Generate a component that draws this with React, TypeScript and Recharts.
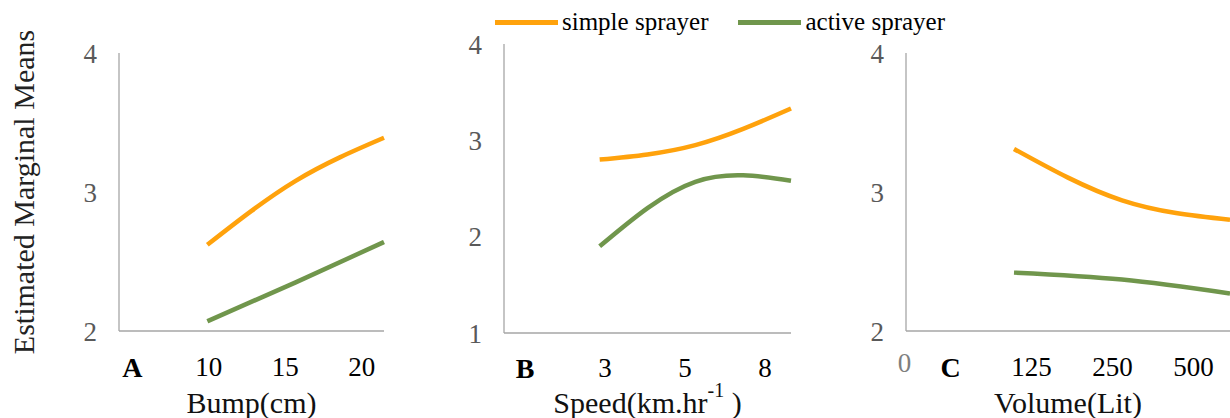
import { LineChart, Line, XAxis, YAxis, Legend } from "recharts";

// panel A: bump height
const bumpCats = ["A", "10", "15", "20"];
const bumpSimple = [null, 2.62, 3.08, 3.39];
const bumpActive = [null, 2.07, 2.35, 2.64];

// panel B: forward speed
const speedCats = ["B", "3", "5", "8"];
const speedSimple = [null, 2.8, 2.95, 3.33];
const speedActive = [null, 1.9, 2.57, 2.58];

// panel C: tank volume
const volumeCats = ["C", "125", "250", "500"];
const volumeSimple = [null, 3.31, 2.94, 2.8];
const volumeActive = [null, 2.42, 2.37, 2.27];
const volumeOrigin = "0";

const seriesNames = ["simple sprayer", "active sprayer"];

const ticksFrom2 = [2, 3, 4];
const ticksFrom1 = [1, 2, 3, 4];

const ORANGE = "#FFA20C";
const GREEN = "#70964C";
const AXIS = "#a6a6a6";
const FONT = "'Liberation Serif', 'Times New Roman', serif";

const toRows = (cats: string[], simple: (number | null)[], active: (number | null)[]) =>
  cats.map((c, i) => ({ cat: c, simple: simple[i], active: active[i] }));

const bumpData = toRows(bumpCats, bumpSimple, bumpActive);
const speedData = toRows(speedCats, speedSimple, speedActive);
const volumeData = toRows(volumeCats, volumeSimple, volumeActive);

function CategoryTick(props: any) {
  const { x, y, payload, index, origin } = props;
  const first = index === 0;
  return (
    <g>
      {first && origin ? (
        <text x={x - 46} y={y - 4} dy="0.71em" textAnchor="middle" fill="#7f7f7f" fontSize={27} fontFamily={FONT}>
          {origin}
        </text>
      ) : null}
      <text
        x={x}
        y={y}
        dy="0.71em"
        textAnchor="middle"
        fill="#000"
        fontFamily={FONT}
        fontSize={first ? 28 : 27}
        fontWeight={first ? 700 : 400}
      >
        {payload.value}
      </text>
    </g>
  );
}

function AxisTitle(props: any) {
  const { viewBox, text, sup, tail } = props;
  if (!viewBox) return null;
  const cx = viewBox.x + viewBox.width / 2;
  const base = viewBox.y + viewBox.height - 5;
  return (
    <text x={cx} y={base} textAnchor="middle" fontSize={30} fill="#111" fontFamily={FONT}>
      {text}
      {sup ? (
        <tspan dy={-16} fontSize={20}>
          {sup}
        </tspan>
      ) : null}
      {sup ? <tspan dy={16}>{tail}</tspan> : null}
    </text>
  );
}

function YTitle(props: any) {
  const { viewBox, text } = props;
  if (!viewBox) return null;
  const x = viewBox.x + 23;
  const y = viewBox.y + viewBox.height / 2;
  return (
    <text
      x={x}
      y={y}
      transform={`rotate(-90 ${x} ${y})`}
      textAnchor="middle"
      dominantBaseline="central"
      fontSize={30}
      fill="#222"
      fontFamily={FONT}
    >
      {text}
    </text>
  );
}

function SprayerLegend(props: any) {
  const items = [...(props.payload || [])].sort(
    (a: any, b: any) => seriesNames.indexOf(a.value) - seriesNames.indexOf(b.value)
  );
  return (
    <div style={{ display: "flex", alignItems: "center", fontSize: 25, color: "#000", whiteSpace: "nowrap", fontFamily: FONT }}>
      {items.map((p: any) => (
        <div key={p.value} style={{ display: "flex", alignItems: "center", marginRight: 30 }}>
          <span style={{ display: "inline-block", width: 63, height: 5, background: p.color, marginRight: 4 }} />
          <span>{p.value}</span>
        </div>
      ))}
    </div>
  );
}

type PanelProps = {
  left: number;
  width: number;
  top: number;
  right: number;
  yWidth: number;
  axisHeight: number;
  data: any[];
  yDomain: [number, number];
  yTicks: number[];
  labelPadding: { left: number; right: number };
  tickMargin: number;
  title: any;
  origin?: string;
  yTitle?: string;
  legend?: boolean;
};

function Panel(p: PanelProps) {
  return (
    <div style={{ position: "absolute", left: p.left, top: 0 }}>
      <LineChart width={p.width} height={418} data={p.data} margin={{ top: p.top, right: p.right, bottom: 0, left: 0 }}>
        <XAxis xAxisId="pts" dataKey="cat" type="category" scale="point" hide />
        <XAxis
          xAxisId="lbl"
          dataKey="cat"
          type="category"
          scale="band"
          height={p.axisHeight}
          padding={p.labelPadding}
          axisLine={{ stroke: AXIS, strokeWidth: 1.3 }}
          tickLine={false}
          tickSize={0}
          tickMargin={p.tickMargin}
          interval={0}
          tick={<CategoryTick origin={p.origin} />}
          label={p.title}
        />
        <YAxis
          type="number"
          domain={p.yDomain}
          ticks={p.yTicks}
          interval={0}
          width={p.yWidth}
          axisLine={{ stroke: AXIS, strokeWidth: 1.3 }}
          tickLine={false}
          tickSize={0}
          tickMargin={22}
          tick={{ fill: "#595959", fontSize: 27, fontFamily: FONT }}
          label={p.yTitle ? <YTitle text={p.yTitle} /> : undefined}
        />
        {p.legend ? (
          <Legend
            layout="horizontal"
            verticalAlign="middle"
            align="center"
            content={<SprayerLegend />}
            wrapperStyle={{ left: 95, top: 8, width: 520 }}
          />
        ) : null}
        <Line
          xAxisId="pts"
          type="natural"
          dataKey="simple"
          name={seriesNames[0]}
          stroke={ORANGE}
          strokeWidth={4.5}
          dot={false}
          activeDot={false}
          isAnimationActive={false}
        />
        <Line
          xAxisId="pts"
          type="natural"
          dataKey="active"
          name={seriesNames[1]}
          stroke={GREEN}
          strokeWidth={4.5}
          dot={false}
          activeDot={false}
          isAnimationActive={false}
        />
      </LineChart>
    </div>
  );
}

export default function App() {
  return (
    <div
      style={{
        position: "absolute",
        left: 0,
        top: 0,
        width: 1230,
        height: 418,
        overflow: "hidden",
        background: "#fff",
        fontFamily: FONT,
      }}
    >
      <Panel
        left={0}
        width={400}
        top={53}
        right={16}
        yWidth={119}
        axisHeight={87}
        data={bumpData}
        yDomain={[2, 4]}
        yTicks={ticksFrom2}
        labelPadding={{ left: -25, right: -16 }}
        tickMargin={26}
        title={<AxisTitle text="Bump(cm)" />}
        yTitle="Estimated Marginal Means"
      />
      <Panel
        left={400}
        width={410}
        top={44}
        right={19}
        yWidth={104}
        axisHeight={85}
        data={speedData}
        yDomain={[1, 4]}
        yTicks={ticksFrom1}
        labelPadding={{ left: -19, right: -14 }}
        tickMargin={25}
        title={<AxisTitle text="Speed(km.hr" sup="-1" tail=" )" />}
        legend
      />
      <Panel
        left={810}
        width={420}
        top={53}
        right={0}
        yWidth={96}
        axisHeight={87}
        data={volumeData}
        yDomain={[2, 4]}
        yTicks={ticksFrom2}
        labelPadding={{ left: 4, right: -4 }}
        tickMargin={26}
        title={<AxisTitle text="Volume(Lit)" />}
        origin={volumeOrigin}
      />
    </div>
  );
}
